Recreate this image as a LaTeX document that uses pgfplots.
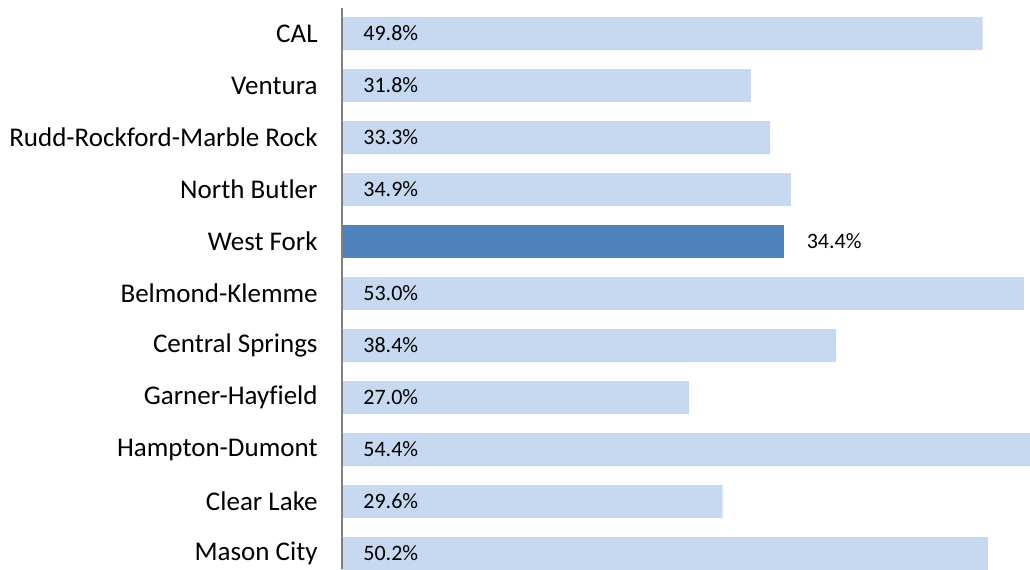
\documentclass[border=0pt]{standalone}
\usepackage{pgfplots}
\usepackage{pgfplotstable}
\pgfplotsset{compat=1.18}
\usepackage{fontspec}
\setmainfont{Carlito}[Ligatures={NoCommon}]
\definecolor{lightbar}{HTML}{C6D9F0}
\definecolor{darkbar}{HTML}{4F81BD}
\definecolor{axisgray}{HTML}{808080}

\pgfplotstableread{
y val
0 49.8
1 31.8
2 33.3
3 34.9
5 53.0
6 38.4
7 27.0
8 54.4
9 29.6
10 50.2
}\lighttable
\pgfplotstableread{
y val
4 34.4
}\darktable

\begin{document}
\begin{tikzpicture}
\begin{axis}[
  name=ax,
  scale only axis,
  width=344.25pt, height=280.5pt,
  xmin=0, xmax=53.48,
  ymin=-0.4904, ymax=10.298,
  y dir=reverse,
  axis line style={draw=none},
  xtick=\empty,
  ytick={0,1,2,3,4,5,6,7,8,9,10},
  yticklabels={CAL,Ventura,Rudd-Rockford-Marble Rock,North Butler,West Fork,Belmond-Klemme,Central Springs,Garner-Hayfield,Hampton-Dumont,Clear Lake,Mason City},
  major tick length=0pt,
  yticklabel style={font=\fontsize{13.5pt}{15pt}\selectfont, inner sep=0pt, anchor=east, xshift=-11.75pt, text=black},
]
\addplot[xbar, bar shift=0pt, bar width=16.5pt, draw=none, fill=lightbar]
  table[x=val, y=y] {\lighttable};
\addplot[xbar, bar shift=0pt, bar width=16.5pt, draw=none, fill=darkbar,
  point meta=explicit symbolic,
  nodes near coords={\pgfplotspointmeta\%},
  nodes near coords style={font=\fontsize{11pt}{13pt}\selectfont, anchor=west, inner sep=0pt, xshift=11pt, text=black}]
  table[x=val, y=y, meta=val] {\darktable};
\addplot[xbar, bar shift=0pt, bar width=16.5pt, draw=none, fill=none,
  point meta=explicit symbolic,
  nodes near coords={\pgfplotspointmeta\%},
  nodes near coords style={font=\fontsize{11pt}{13pt}\selectfont, anchor=west, inner sep=0pt, xshift=10.75pt, text=black}]
  table[x expr=0, y=y, meta=val] {\lighttable};
\end{axis}
\draw[axisgray, line width=1pt] (ax.south west) -- (ax.north west);
\pgfresetboundingbox
\path[use as bounding box] ([xshift=-170.75pt]ax.south west) rectangle ([yshift=4pt]ax.north east);
\end{tikzpicture}
\end{document}
